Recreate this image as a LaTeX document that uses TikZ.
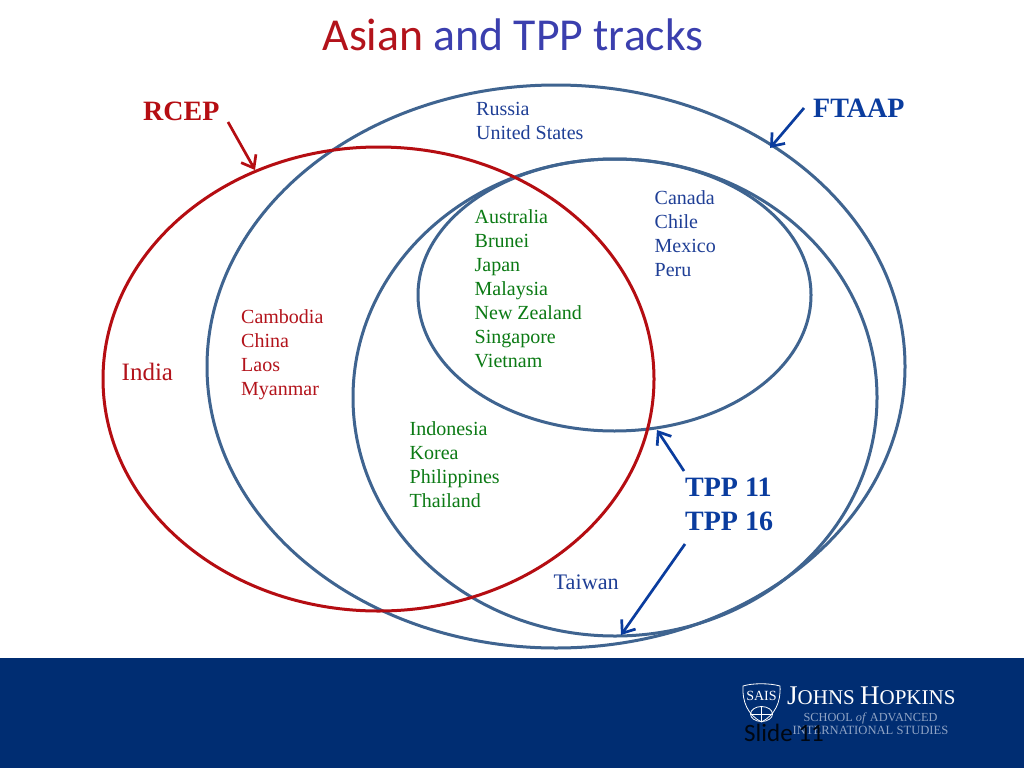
\documentclass[tikz,border=0pt]{standalone}
\usepackage{fontspec}
\setmainfont{Liberation Serif}
\newfontfamily\titlefont{Carlito}
\definecolor{ftblue}{HTML}{3F6490}
\definecolor{rcepred}{HTML}{B50D12}
\definecolor{arrowblue}{HTML}{0A3C9E}
\definecolor{titleblue}{HTML}{3B3FAE}
\definecolor{titlered}{HTML}{B3131B}
\definecolor{band}{HTML}{002D72}
\definecolor{listgreen}{HTML}{0B7A14}
\definecolor{listblue}{HTML}{1F3F96}
\definecolor{listred}{HTML}{B3131B}
\definecolor{logofaint}{HTML}{8FA3C4}
\usetikzlibrary{arrows.meta}
\tikzset{
  venn/.style={draw=ftblue,line width=3pt,fill=none},
  vennred/.style={draw=rcepred,line width=3pt,fill=none},
  pointer/.style={draw=arrowblue,line width=2.7pt,-{Straight Barb[length=11pt,width=17pt,line width=2.7pt]}},
  pointerred/.style={draw=rcepred,line width=2.7pt,-{Straight Barb[length=11pt,width=17pt,line width=2.7pt]}},
  countries/.style={inner sep=0pt,anchor=north west,align=left,font=\fontsize{20}{24}\selectfont},
  tag/.style={inner sep=0pt,anchor=west,font=\fontsize{28}{34}\selectfont\bfseries},
}
\begin{document}
\begin{tikzpicture}[x=1pt,y=-1pt]
\useasboundingbox (0,0) rectangle (1024,768);
\fill[white] (0,0) rectangle (1024,768);
\fill[band] (0,658) rectangle (1024,768);

\node[inner sep=0pt,anchor=center,font=\titlefont\fontsize{45.7}{52}\selectfont] (title) at (513,35) {\textcolor{titlered}{Asian} \textcolor{titleblue}{and TPP tracks}};

% circles
\draw[venn] (556,366.5) ellipse [x radius=349,y radius=281.5];
\draw[venn] (615,397.5) ellipse [x radius=262,y radius=238.5];
\draw[venn] (614.5,295) ellipse [x radius=196.5,y radius=136];
\draw[vennred] (378.5,379) ellipse [x radius=275.5,y radius=232];

% labels
\node[tag,text=rcepred] (rcep) at (143,111) {RCEP};
\node[tag,text=arrowblue] (ftaap) at (813,108) {FTAAP};
\node[tag,text=arrowblue] (t11) at (685,487) {TPP 11};
\node[tag,text=arrowblue] (t16) at (685,521) {TPP 16};

\node[countries,text=listblue] (n1) at (476,102.5) {Russia\\United States};
\node[countries,text=listblue] (n2) at (654.5,190.5) {Canada\\Chile\\Mexico\\Peru};
\node[countries,text=listgreen] (n3) at (474.5,209) {Australia\\Brunei\\Japan\\Malaysia\\New Zealand\\Singapore\\Vietnam};
\node[countries,text=listred] (n4) at (241,309.5) {Cambodia\\China\\Laos\\Myanmar};
\node[inner sep=0pt,anchor=west,text=listred,font=\fontsize{25}{28}\selectfont] (india) at (121.5,372) {India};
\node[countries,text=listgreen] (n5) at (409.5,421.5) {Indonesia\\Korea\\Philippines\\Thailand};
\node[inner sep=0pt,anchor=west,text=listblue,font=\fontsize{22.2}{26}\selectfont] (taiwan) at (553.5,582) {Taiwan};

% arrows
\coordinate (a1) at (228,122); \coordinate (a1e) at (255,170);
\coordinate (a2) at (804,108); \coordinate (a2e) at (770,148);
\coordinate (a3) at (684,471); \coordinate (a3e) at (657,430);
\coordinate (a4) at (685,544); \coordinate (a4e) at (621,635);
\draw[pointerred] (a1) -- (a1e);
\draw[pointer] (a2) -- (a2e);
\draw[pointer] (a3) -- (a3e);
\draw[pointer] (a4) -- (a4e);

% logo
\begin{scope}[draw=white,line width=0.8pt]
\draw (743,686) .. controls (752,683) and (770,683) .. (780,686) .. controls (781,702) and (775,715) .. (761.5,722) .. controls (748,715) and (742,702) .. (743,686) -- cycle;
\draw (761.5,714) ellipse [x radius=11,y radius=7.5];
\draw (761.5,706.5) -- (761.5,721.5);
\draw (750.5,714) -- (772.5,714);
\end{scope}
\node[inner sep=0pt,text=white,font=\fontsize{14}{14}\selectfont] (sais) at (761.5,696) {SAIS};
\node[inner sep=0pt,anchor=west,text=white,font=\fontsize{27}{27}\selectfont] (jh) at (787,696) {J\fontsize{21}{21}\selectfont OHNS \fontsize{27}{27}\selectfont H\fontsize{21}{21}\selectfont OPKINS};
\node[inner sep=0pt,anchor=center,text=logofaint,font=\fontsize{12.3}{12}\selectfont] (school) at (870.5,718.5) {SCHOOL \textit{of} ADVANCED};
\node[inner sep=0pt,anchor=center,text=logofaint,font=\fontsize{12.6}{12}\selectfont] (intl) at (870.5,730.5) {INTERNATIONAL STUDIES};
\node[inner sep=0pt,anchor=west,text=black!85!band,font=\titlefont\fontsize{25}{28}\selectfont] (slide) at (744,733) {Slide 11};
\end{tikzpicture}
\end{document}
